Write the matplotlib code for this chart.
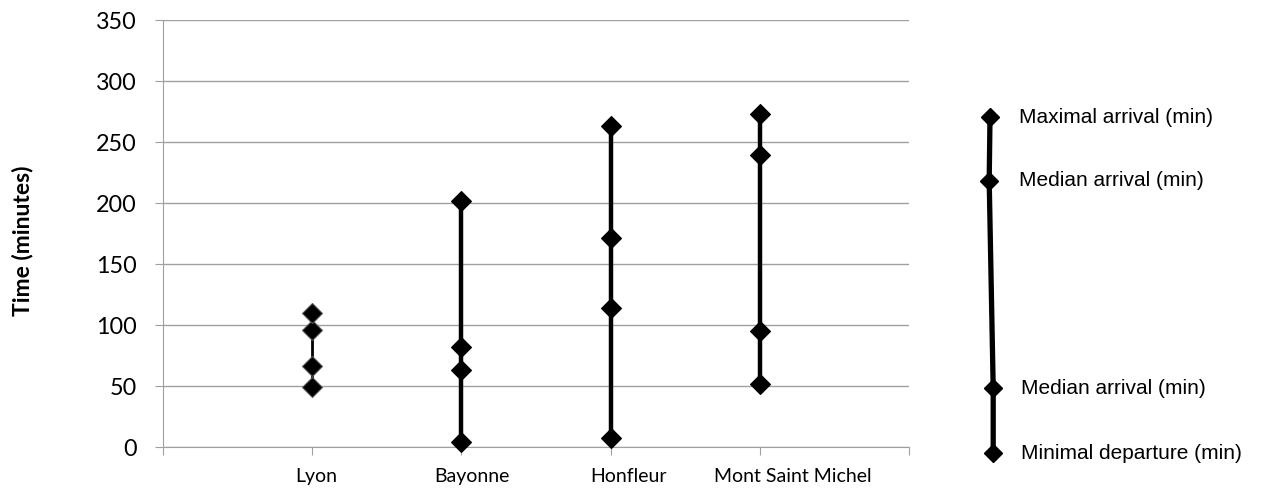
import matplotlib.pyplot as plt
import matplotlib.transforms as mtransforms

cities = ['Lyon', 'Bayonne', 'Honfleur', 'Mont Saint Michel']
max_arrival = [110, 202, 263, 273]
median_arrival = [96, 82, 171, 239]
median_departure = [66, 63, 114, 95]
min_departure = [49, 4, 7, 52]

legend_labels = ['Maximal arrival (min)', 'Median arrival (min)',
                 'Median arrival (min)', 'Minimal departure (min)']

# category labels sit a bit right of their tick in the original
label_shift = [0.03, 0.07, 0.12, 0.22]

fig = plt.figure(figsize=(12.65, 4.94), dpi=100)
ax = fig.add_axes([0.1289, 0.0951, 0.5897, 0.8644])

xs = list(range(1, len(cities) + 1))
for i, x in enumerate(xs):
    vals = [min_departure[i], median_departure[i], median_arrival[i], max_arrival[i]]
    lw = 2 if i == 0 else 3.2
    ec = '#555555' if i == 0 else 'black'
    ax.plot([x] * 4, vals, color='black', lw=lw, marker='D', markersize=10,
            markerfacecolor='black', markeredgecolor=ec, markeredgewidth=0.8,
            solid_capstyle='butt', zorder=3, clip_on=False)

ax.set_xlim(0, len(cities) + 1)
ax.set_ylim(0, 350)
ax.set_yticks(range(0, 351, 50))
ax.set_xticks(range(0, len(cities) + 2))
ax.set_xticklabels([])
for lbl in ax.get_yticklabels():
    lbl.set_family('Lato')
    lbl.set_fontsize(16.8)
ax.yaxis.grid(True, color='#a0a0a0', lw=1)
ax.set_axisbelow(True)
for s in ['top', 'right']:
    ax.spines[s].set_visible(False)
for s in ['left', 'bottom']:
    ax.spines[s].set_color('#a0a0a0')
ax.tick_params(axis='both', colors='#a0a0a0', length=6, labelcolor='black')
ax.tick_params(axis='y', pad=13)

trans = mtransforms.blended_transform_factory(ax.transData, ax.transAxes)
for x, name, dx in zip(xs, cities, label_shift):
    ax.text(x + dx, -0.068, name, transform=trans, ha='center', va='center',
            fontsize=14, family='Lato')

fig.text(23 / 1265, 0.512, 'Time (minutes)', rotation=90, ha='center', va='center',
         family='Lato', fontweight='bold', fontsize=16.5)

# custom legend drawn as a small range bar
lax = fig.add_axes([970 / 1265, 41 / 494, 40 / 1265, 336 / 494])
lax.set_xlim(0, 1)
lax.set_ylim(0, 1)
lax.axis('off')
ly = [0.0, 0.193, 0.81, 1.0]
lx = [0.58, 0.58, 0.48, 0.5]
lax.plot(lx, ly, color='black', lw=3.8, marker='D', markersize=9.5,
         solid_capstyle='butt', clip_on=False)
text_x = [1.225, 1.225, 1.275, 1.275]
for y, t, tx in zip(ly[::-1], legend_labels, text_x):
    lax.text(tx, y, t, fontsize=15, family='Liberation Sans', va='center', ha='left')

fig.savefig('out.png', dpi=100)
